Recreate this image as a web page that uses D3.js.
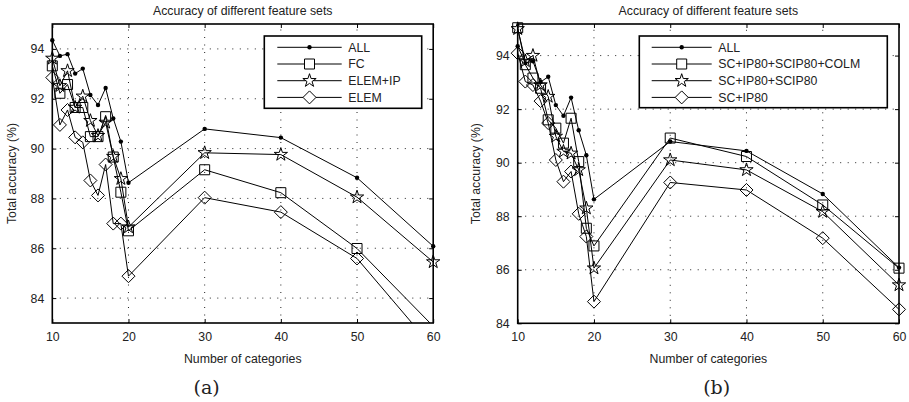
<!DOCTYPE html>
<html>
<head>
<meta charset="utf-8">
<script src="https://cdn.jsdelivr.net/npm/d3@7"></script>
<style>
  html, body { margin: 0; padding: 0; background: #fff; }
  svg { display: block; font-family: "Liberation Sans", Arial, Helvetica, sans-serif; }
</style>
</head>
<body>
<svg id="chart" width="909" height="402"></svg>
<script>
// ---------- DATA ----------
const categories = [10, 11, 12, 13, 14, 15, 16, 17, 18, 19, 20, 30, 40, 50, 60];
const xTicks = [10, 20, 30, 40, 50, 60];
const yTicks = [84, 86, 88, 90, 92, 94];
const title = "Accuracy of different feature sets";
const xLabel = "Number of categories";
const yLabel = "Total accuracy (%)";

// panel (a)
const namesA = ["ALL", "FC", "ELEM+IP", "ELEM"];
const allA    = [94.35, 93.72, 93.79, 93.01, 93.21, 92.15, 91.75, 92.43, 91.21, 90.28, 88.63, 90.79, 90.44, 88.83, 86.08];
const fcA     = [93.32, 92.22, 92.57, 91.65, 91.65, 90.48, 90.48, 91.28, 89.66, 88.25, 86.70, 89.15, 88.23, 85.99, 82.87];
const elemIpA = [93.62, 92.52, 93.12, 91.65, 92.10, 91.12, 90.52, 91.05, 89.68, 88.79, 86.85, 89.83, 89.76, 88.05, 85.45];
const elemA   = [92.85, 90.95, 91.55, 90.45, 90.25, 88.72, 88.12, 89.36, 86.99, 86.99, 84.88, 88.03, 87.45, 85.59, 82.00];

// panel (b)
const namesB = ["ALL", "SC+IP80+SCIP80+COLM", "SC+IP80+SCIP80", "SC+IP80"];
const allB    = [94.35, 93.72, 93.79, 93.01, 93.21, 92.15, 91.75, 92.43, 91.21, 90.28, 88.63, 90.79, 90.44, 88.83, 86.08];
const colmB   = [95.04, 93.66, 93.16, 92.78, 91.60, 91.29, 90.73, 91.66, 90.04, 87.55, 86.89, 90.92, 90.23, 88.42, 86.06];
const scipB   = [95.00, 93.80, 94.00, 92.90, 92.47, 90.98, 90.42, 90.35, 89.73, 88.30, 86.06, 90.10, 89.73, 88.17, 85.43];
const ipB     = [94.09, 93.03, 92.90, 92.30, 91.48, 90.10, 89.29, 89.67, 88.09, 87.24, 84.81, 89.26, 88.98, 87.18, 84.52];

const markers = ["dot", "square", "star", "diamond"];

// ---------- DRAWING ----------
const svg = d3.select("#chart");
const FS = "12.3px";

function markerPath(type) {
  const p = d3.path();
  if (type === "square") {
    const h = 5;
    p.rect(-h, -h, 2 * h, 2 * h);
  } else if (type === "diamond") {
    const h = 6.5;
    p.moveTo(0, -h); p.lineTo(h, 0); p.lineTo(0, h); p.lineTo(-h, 0); p.closePath();
  } else if (type === "star") {
    const R = 7, r = R * 0.382;
    for (let i = 0; i < 10; i++) {
      const a = -Math.PI / 2 + i * Math.PI / 5;
      const rr = i % 2 === 0 ? R : r;
      const x = rr * Math.cos(a), y = rr * Math.sin(a);
      if (i === 0) p.moveTo(x, y); else p.lineTo(x, y);
    }
    p.closePath();
  }
  return p.toString();
}

function drawPanel(cfg) {
  const g = svg.append("g");
  const x = d3.scaleLinear().domain([10, 60]).range([cfg.x0, cfg.x1]);
  const y = d3.scaleLinear().domain(cfg.yDomain).range([cfg.yBottom, cfg.yTop]);
  const [xa, xb] = x.range();
  const [yb, yt] = y.range();

  // grid (dotted)
  g.append("g").selectAll("line.vg").data(xTicks.slice(1, -1)).join("line")
    .attr("x1", d => x(d)).attr("x2", d => x(d)).attr("y1", yb).attr("y2", yt)
    .attr("stroke", "#222").attr("stroke-width", 1).attr("stroke-dasharray", "1,6.5");
  g.append("g").selectAll("line.hg").data(yTicks.filter(t => y(t) < yb - 1 && y(t) > yt + 1)).join("line")
    .attr("x1", xa).attr("x2", xb).attr("y1", d => y(d)).attr("y2", d => y(d))
    .attr("stroke", "#222").attr("stroke-width", 1).attr("stroke-dasharray", "1,6.5");

  // axes with inside ticks
  const tl = 4;
  const axB = d3.axisBottom(x).tickValues(xTicks).tickSize(-tl).tickPadding(9);
  const axT = d3.axisTop(x).tickValues(xTicks).tickSize(-tl).tickFormat("");
  const axL = d3.axisLeft(y).tickValues(yTicks).tickSize(-tl).tickPadding(8);
  const axR = d3.axisRight(y).tickValues(yTicks).tickSize(-tl).tickFormat("");
  const styleAx = sel => {
    sel.select(".domain").remove();
    sel.selectAll(".tick line").attr("stroke", "#000").attr("stroke-width", 1);
    sel.selectAll(".tick text").attr("fill", "#222").style("font-size", FS)
      .style("font-family", "'Liberation Sans', Arial, sans-serif");
  };
  g.append("g").attr("transform", `translate(0,${yb})`).call(axB).call(styleAx);
  g.append("g").attr("transform", `translate(0,${yt})`).call(axT).call(styleAx);
  g.append("g").attr("transform", `translate(${xa},0)`).call(axL).call(styleAx);
  g.append("g").attr("transform", `translate(${xb},0)`).call(axR).call(styleAx);

  // clip
  const cid = "clip" + cfg.id;
  svg.append("defs").append("clipPath").attr("id", cid)
    .append("rect").attr("x", xa).attr("y", yt).attr("width", xb - xa).attr("height", yb - yt);

  const line = d3.line().x((d, i) => x(categories[i])).y(d => y(d));
  const [lo, hi] = cfg.yDomain;

  cfg.series.forEach((vals) => {
    g.append("path").datum(vals).attr("d", line)
      .attr("fill", "none").attr("stroke", "#000").attr("stroke-width", 1)
      .attr("clip-path", `url(#${cid})`);
  });
  cfg.series.forEach((vals, si) => {
    const type = markers[si];
    const pts = vals.map((v, i) => ({ cx: categories[i], v })).filter(d => d.v >= lo && d.v <= hi + 0.2);
    if (type === "dot") {
      g.append("g").selectAll("circle").data(pts).join("circle")
        .attr("cx", d => x(d.cx)).attr("cy", d => y(d.v)).attr("r", 2.2).attr("fill", "#000");
    } else {
      g.append("g").selectAll("path").data(pts).join("path")
        .attr("transform", d => `translate(${x(d.cx)},${y(d.v)})`)
        .attr("d", markerPath(type)).attr("fill", "none").attr("stroke", "#000").attr("stroke-width", 1);
    }
  });

  // box
  g.append("rect").attr("x", xa).attr("y", yt).attr("width", xb - xa).attr("height", yb - yt)
    .attr("fill", "none").attr("stroke", "#000").attr("stroke-width", 1.6);

  // legend
  const L = cfg.legend;
  const lg = g.append("g");
  lg.append("rect").attr("x", L.x).attr("y", L.y).attr("width", L.w).attr("height", L.h)
    .attr("fill", "#fff").attr("stroke", "#000").attr("stroke-width", 1.6);
  cfg.names.forEach((name, i) => {
    const ly = L.y + 11.3 + i * 16.7;
    lg.append("line").attr("x1", L.lx0).attr("x2", L.lx1).attr("y1", ly).attr("y2", ly)
      .attr("stroke", "#000").attr("stroke-width", 1);
    const mx = (L.lx0 + L.lx1) / 2;
    if (markers[i] === "dot") {
      lg.append("circle").attr("cx", mx).attr("cy", ly).attr("r", 2.2).attr("fill", "#000");
    } else {
      lg.append("path").attr("transform", `translate(${mx},${ly})`).attr("d", markerPath(markers[i]))
        .attr("fill", "#fff").attr("stroke", "#000").attr("stroke-width", 1);
    }
    lg.append("text").attr("x", L.tx).attr("y", ly + 4.3).text(name)
      .attr("fill", "#222").style("font-size", FS);
  });

  // titles & labels
  g.append("text").attr("x", (xa + xb) / 2).attr("y", 15).attr("text-anchor", "middle")
    .attr("fill", "#222").style("font-size", FS).text(title);
  g.append("text").attr("x", (xa + xb) / 2).attr("y", 362.5).attr("text-anchor", "middle")
    .attr("fill", "#222").style("font-size", FS).text(xLabel);
  g.append("text").attr("transform", `translate(${cfg.yLabelX},${(yt + yb) / 2}) rotate(-90)`)
    .attr("text-anchor", "middle").attr("fill", "#222").style("font-size", FS).text(yLabel);
  g.append("text").attr("x", cfg.capX).attr("y", 394).attr("text-anchor", "middle")
    .attr("fill", "#222").style("font-size", "19px")
    .style("font-family", "'DejaVu Serif', 'Liberation Serif', serif").text(cfg.caption);
}

drawPanel({
  id: "a", x0: 52.3, x1: 433.2, yTop: 24, yBottom: 323, yDomain: [83, 95],
  series: [allA, fcA, elemIpA, elemA], names: namesA,
  legend: { x: 264.3, y: 36, w: 157.4, h: 72.3, lx0: 277.3, lx1: 341.7, tx: 348.3 },
  yLabelX: 16, capX: 206.7, caption: "(a)"
});
drawPanel({
  id: "b", x0: 517.7, x1: 899, yTop: 24, yBottom: 323.3, yDomain: [84, 95.18],
  series: [allB, colmB, scipB, ipB], names: namesB,
  legend: { x: 639.3, y: 36, w: 248, h: 71.7, lx0: 651.7, lx1: 711.7, tx: 718.3 },
  yLabelX: 480, capX: 716.7, caption: "(b)"
});
</script>
</body>
</html>
